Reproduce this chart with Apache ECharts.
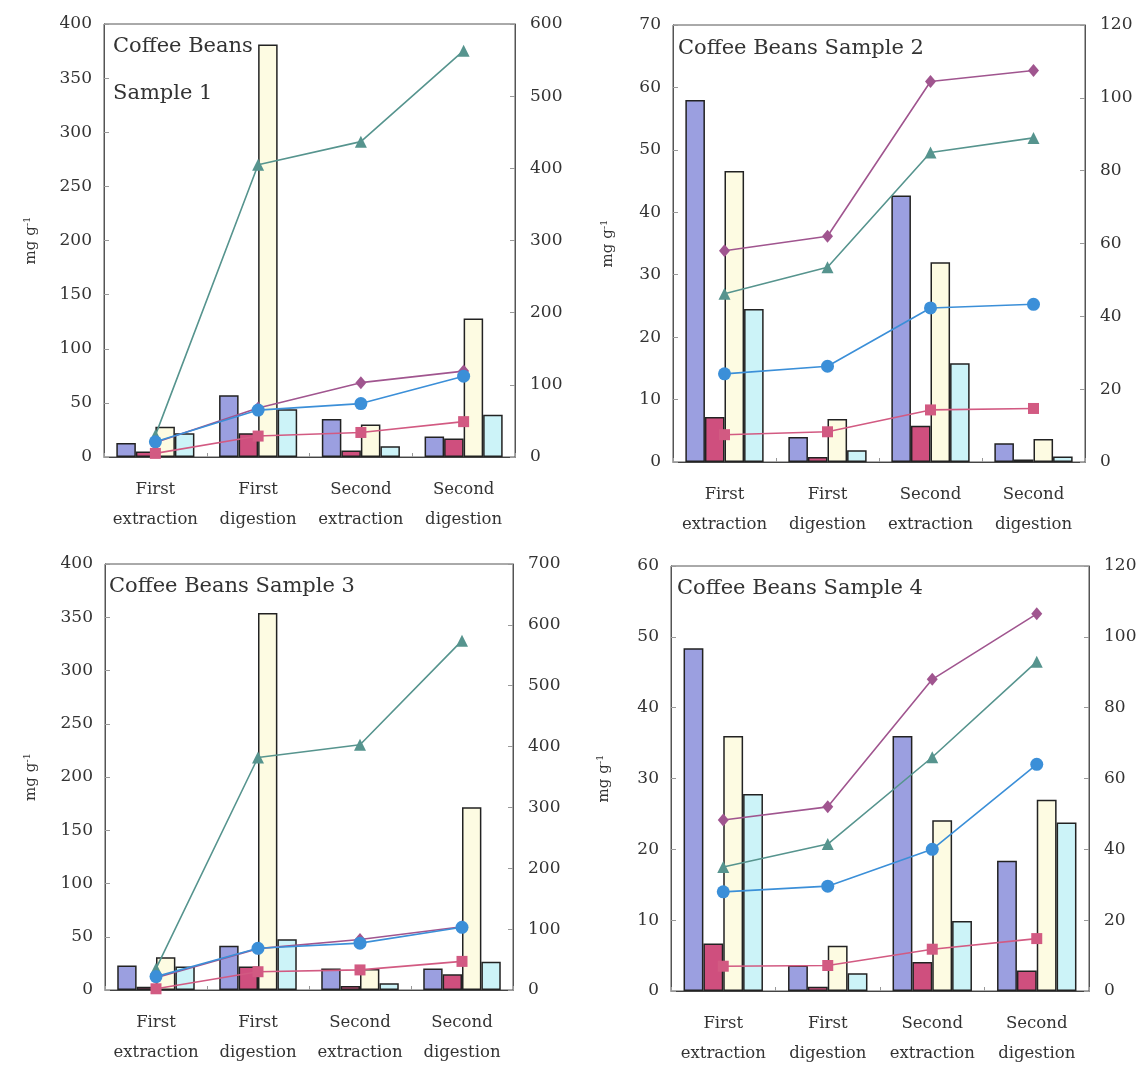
<!DOCTYPE html>
<html>
<head>
<meta charset="utf-8">
<script src="https://cdn.jsdelivr.net/npm/echarts@6/dist/echarts.min.js"></script>
<style>
  html, body { margin: 0; padding: 0; background: #fff; }
  #chart { width: 1147px; height: 1070px; }
</style>
</head>
<body>
<div id="chart"></div>
<script>
// Extraction / digestion steps shared by every sample
const categories = ['First\nextraction', 'First\ndigestion', 'Second\nextraction', 'Second\ndigestion'];
const sampleTitles = ['Coffee Beans\nSample 1', 'Coffee Beans Sample 2', 'Coffee Beans Sample 3', 'Coffee Beans Sample 4'];

// Axis ranges (left axis: bars, right axis: lines)
const leftMax = [400, 70, 400, 60];
const leftStep = [50, 10, 50, 10];
const rightMax = [600, 120, 700, 120];
const rightStep = [100, 20, 100, 20];

// Bar values, mg g-1 (four bars per step)
const sample1Bars = [
  [13, 57, 35, 19],
  [5, 22, 6, 17],
  [28, 381, 30, 128],
  [22, 44, 10, 39]
];
const sample2Bars = [
  [58, 4, 42.7, 3],
  [7.2, 0.8, 5.8, 0.4],
  [46.6, 6.9, 32, 3.7],
  [24.5, 1.9, 15.8, 0.9]
];
const sample3Bars = [
  [23, 41.6, 20.3, 20.3],
  [3, 22, 3.8, 14.7],
  [30.7, 354, 19.7, 171.5],
  [22, 47.6, 6.3, 26.6]
];
const sample4Bars = [
  [48.4, 3.6, 36, 18.4],
  [6.7, 0.6, 4.1, 2.9],
  [36, 6.4, 24.1, 27],
  [27.8, 2.5, 9.9, 23.8]
];

// Line values on the right axis: diamond, triangle, circle, square
const sample1Lines = [
  [20, 68, 103, 119],
  [30, 405, 437, 563],
  [21, 65, 74, 112],
  [5, 29, 34, 49]
];
const sample2Lines = [
  [58, 62, 104.5, 107.5],
  [46.2, 53.5, 85, 89],
  [24.2, 26.3, 42.3, 43.3],
  [7.5, 8.3, 14.3, 14.7]
];
const sample3Lines = [
  [20, 68, 83, 104],
  [35, 382, 403, 574],
  [22, 68.5, 77, 103],
  [2, 30, 33, 47]
];
const sample4Lines = [
  [48.3, 52, 88, 106.5],
  [35, 41.5, 66, 93],
  [28, 29.6, 40, 64],
  [7, 7.2, 11.8, 14.8]
];

const allBars = [sample1Bars, sample2Bars, sample3Bars, sample4Bars];
const allLines = [sample1Lines, sample2Lines, sample3Lines, sample4Lines];

const FONT = 'DejaVu Serif';
const barColors = ['#9b9fe0', '#cf4f7e', '#fdfbe2', '#ccf3f8'];
const lineColors = ['#a0558f', '#56948e', '#3b8fd8', '#d25a82'];
const lineSymbols = ['diamond', 'triangle', 'circle', 'rect'];
const symbolSizes = [[11, 13], 12, 13, 11];

// Plot boxes for the 2x2 layout
const boxes = [
  { left: 104, top: 24, width: 411, height: 433, nameGap: 64, tx: 113, ty: 23 },
  { left: 673, top: 25, width: 412, height: 437, nameGap: 56, tx: 678, ty: 25 },
  { left: 105, top: 564, width: 408, height: 426, nameGap: 65, tx: 109, ty: 563 },
  { left: 671, top: 566, width: 418, height: 425, nameGap: 58, tx: 677, ty: 565 }
];

const grid = [], xAxis = [], yAxis = [], series = [], title = [];

boxes.forEach((b, i) => {
  grid.push({
    left: b.left, top: b.top, width: b.width, height: b.height,
    show: true, borderColor: '#555', borderWidth: 1, backgroundColor: 'transparent'
  });
  title.push({
    text: sampleTitles[i], left: b.tx, top: b.ty, padding: 0,
    textStyle: { fontFamily: FONT, fontSize: 21, fontWeight: 'normal', color: '#333', lineHeight: 47 }
  });
  xAxis.push({
    type: 'category', gridIndex: i, data: categories, boundaryGap: true,
    axisLine: { show: true, lineStyle: { color: '#444', width: 1 } },
    axisTick: { show: true, inside: true, length: 4, lineStyle: { color: '#999' } },
    axisLabel: { interval: 0, fontFamily: FONT, fontSize: 16.5, lineHeight: 30, color: '#333', margin: 18 }
  });
  const common = {
    type: 'value', gridIndex: i, min: 0,
    splitLine: { show: false },
    axisLine: { show: true, lineStyle: { color: '#555', width: 1 } },
    axisTick: { show: true, inside: true, length: 5, lineStyle: { color: '#999' } }
  };
  yAxis.push(Object.assign({}, common, {
    position: 'left', max: leftMax[i], interval: leftStep[i],
    axisLabel: { fontFamily: FONT, fontSize: 17, color: '#333', margin: 12 },
    name: '{a|mg g}{s|-1}', nameLocation: 'middle', nameGap: b.nameGap,
    nameTextStyle: {
      fontFamily: FONT, fontSize: 15, color: '#333',
      rich: {
        a: { fontFamily: FONT, fontSize: 15, color: '#333' },
        s: { fontFamily: FONT, fontSize: 10, color: '#333', verticalAlign: 'top', padding: [0, 0, 8, 0] }
      }
    }
  }));
  yAxis.push(Object.assign({}, common, {
    position: 'right', max: rightMax[i], interval: rightStep[i],
    axisLabel: { fontFamily: FONT, fontSize: 17, color: '#333', margin: 15 }
  }));

  allBars[i].forEach((vals, k) => {
    series.push({
      type: 'bar', xAxisIndex: i, yAxisIndex: 2 * i, data: vals,
      barGap: '0%', barCategoryGap: '24%', silent: true,
      itemStyle: { color: barColors[k], borderColor: '#222', borderWidth: 1.5 }
    });
  });
  allLines[i].forEach((vals, k) => {
    series.push({
      type: 'line', xAxisIndex: i, yAxisIndex: 2 * i + 1, data: vals,
      symbol: lineSymbols[k], symbolSize: symbolSizes[k], showAllSymbol: true,
      z: 3, silent: true,
      lineStyle: { color: lineColors[k], width: 1.6 },
      itemStyle: { color: lineColors[k] }
    });
  });
});

const chart = echarts.init(document.getElementById('chart'), null, { renderer: 'canvas' });
chart.setOption({
  backgroundColor: '#fff',
  animation: false,
  title, grid, xAxis, yAxis, series
});
</script>
</body>
</html>
